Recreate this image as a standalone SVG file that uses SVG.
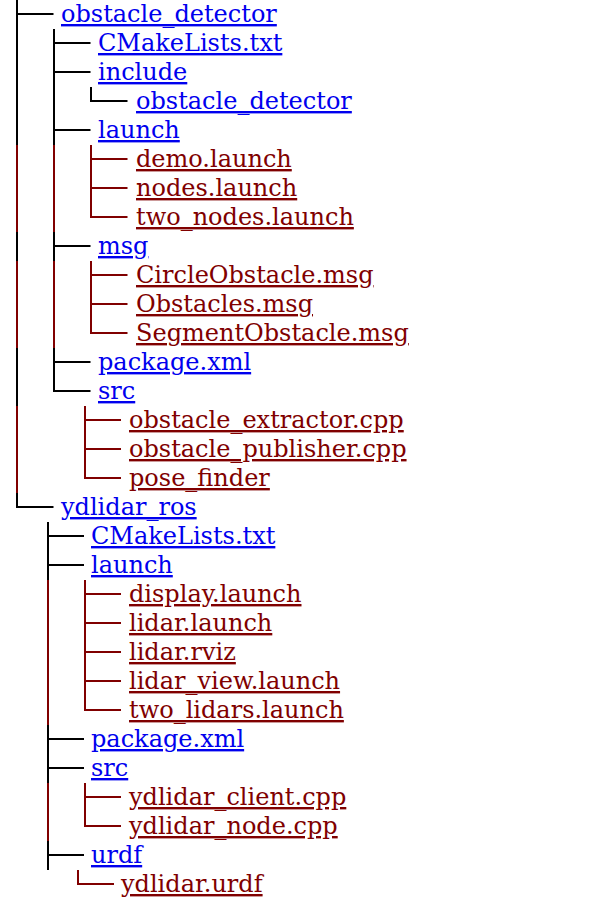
<svg xmlns="http://www.w3.org/2000/svg" width="613" height="914" viewBox="0 0 613 914">
<style>
text{font-family:"DejaVu Serif",serif;font-size:24px;text-decoration:underline}
.d{fill:#0000ee}
.f{fill:#800000}
.k{stroke:#000;fill:none;stroke-width:2}
.r{stroke:#800000;fill:none;stroke-width:2}
</style>
<rect width="613" height="914" fill="#fff"/>
<g id="connectors">
<path class="k" d="M17 0V145M17 14H53.5M54 29V145M54 43H90.5M54 72H90.5M91 87V101H127.5M54 130H90.5M17 232V261M54 232V261M54 246H90.5M17 348V406M54 348V391H90.5M54 362H90.5M17 493V507H53.5"/>
<path class="r" d="M17 145V232M54 145V232M91 145V217H127.5M91 159H127.5M91 188H127.5M17 261V348M54 261V348M91 261V333H127.5M91 275H127.5M91 304H127.5M17 406V493M85 406V478H121M85 420H121M85 449H121"/>
<path class="k" d="M48 522V580M48 536H84M48 565H84M48 725V783M48 739H84M48 768H84M48 841V870M48 855H84"/>
<path class="r" d="M48 580V725M85 580V710H121M85 594H121M85 623H121M85 652H121M85 681H121M48 783V841M85 783V826H121M85 797H121M78 870V884H114"/>
</g>
<g id="obstacle_detector"><text class="d" x="61" y="22">obstacle_detector</text></g>
<g id="od_cmakelists"><text class="d" x="98" y="51">CMakeLists.txt</text></g>
<g id="od_include"><text class="d" x="98" y="80">include</text></g>
<g id="od_include_obstacle_detector"><text class="d" x="136" y="109">obstacle_detector</text></g>
<g id="od_launch"><text class="d" x="98" y="138">launch</text></g>
<g id="od_demo_launch"><text class="f" x="136" y="167">demo.launch</text></g>
<g id="od_nodes_launch"><text class="f" x="136" y="196">nodes.launch</text></g>
<g id="od_two_nodes_launch"><text class="f" x="136" y="225">two_nodes.launch</text></g>
<g id="od_msg"><text class="d" x="98" y="254">msg</text></g>
<g id="od_circle_msg"><text class="f" x="136" y="283">CircleObstacle.msg</text></g>
<g id="od_obstacles_msg"><text class="f" x="136" y="312">Obstacles.msg</text></g>
<g id="od_segment_msg"><text class="f" x="136" y="341">SegmentObstacle.msg</text></g>
<g id="od_package_xml"><text class="d" x="98" y="370">package.xml</text></g>
<g id="od_src"><text class="d" x="98" y="399">src</text></g>
<g id="od_extractor"><text class="f" x="129" y="428">obstacle_extractor.cpp</text></g>
<g id="od_publisher"><text class="f" x="129" y="457">obstacle_publisher.cpp</text></g>
<g id="od_pose_finder"><text class="f" x="129" y="486">pose_finder</text></g>
<g id="ydlidar_ros"><text class="d" x="61" y="515">ydlidar_ros</text></g>
<g id="yd_cmakelists"><text class="d" x="91" y="544">CMakeLists.txt</text></g>
<g id="yd_launch"><text class="d" x="91" y="573">launch</text></g>
<g id="yd_display_launch"><text class="f" x="129" y="602">display.launch</text></g>
<g id="yd_lidar_launch"><text class="f" x="129" y="631">lidar.launch</text></g>
<g id="yd_lidar_rviz"><text class="f" x="129" y="660">lidar.rviz</text></g>
<g id="yd_lidar_view_launch"><text class="f" x="129" y="689">lidar_view.launch</text></g>
<g id="yd_two_lidars_launch"><text class="f" x="129" y="718">two_lidars.launch</text></g>
<g id="yd_package_xml"><text class="d" x="91" y="747">package.xml</text></g>
<g id="yd_src"><text class="d" x="91" y="776">src</text></g>
<g id="yd_client"><text class="f" x="129" y="805">ydlidar_client.cpp</text></g>
<g id="yd_node"><text class="f" x="129" y="834">ydlidar_node.cpp</text></g>
<g id="yd_urdf"><text class="d" x="91" y="863">urdf</text></g>
<g id="yd_urdf_file"><text class="f" x="121" y="892">ydlidar.urdf</text></g>
</svg>
